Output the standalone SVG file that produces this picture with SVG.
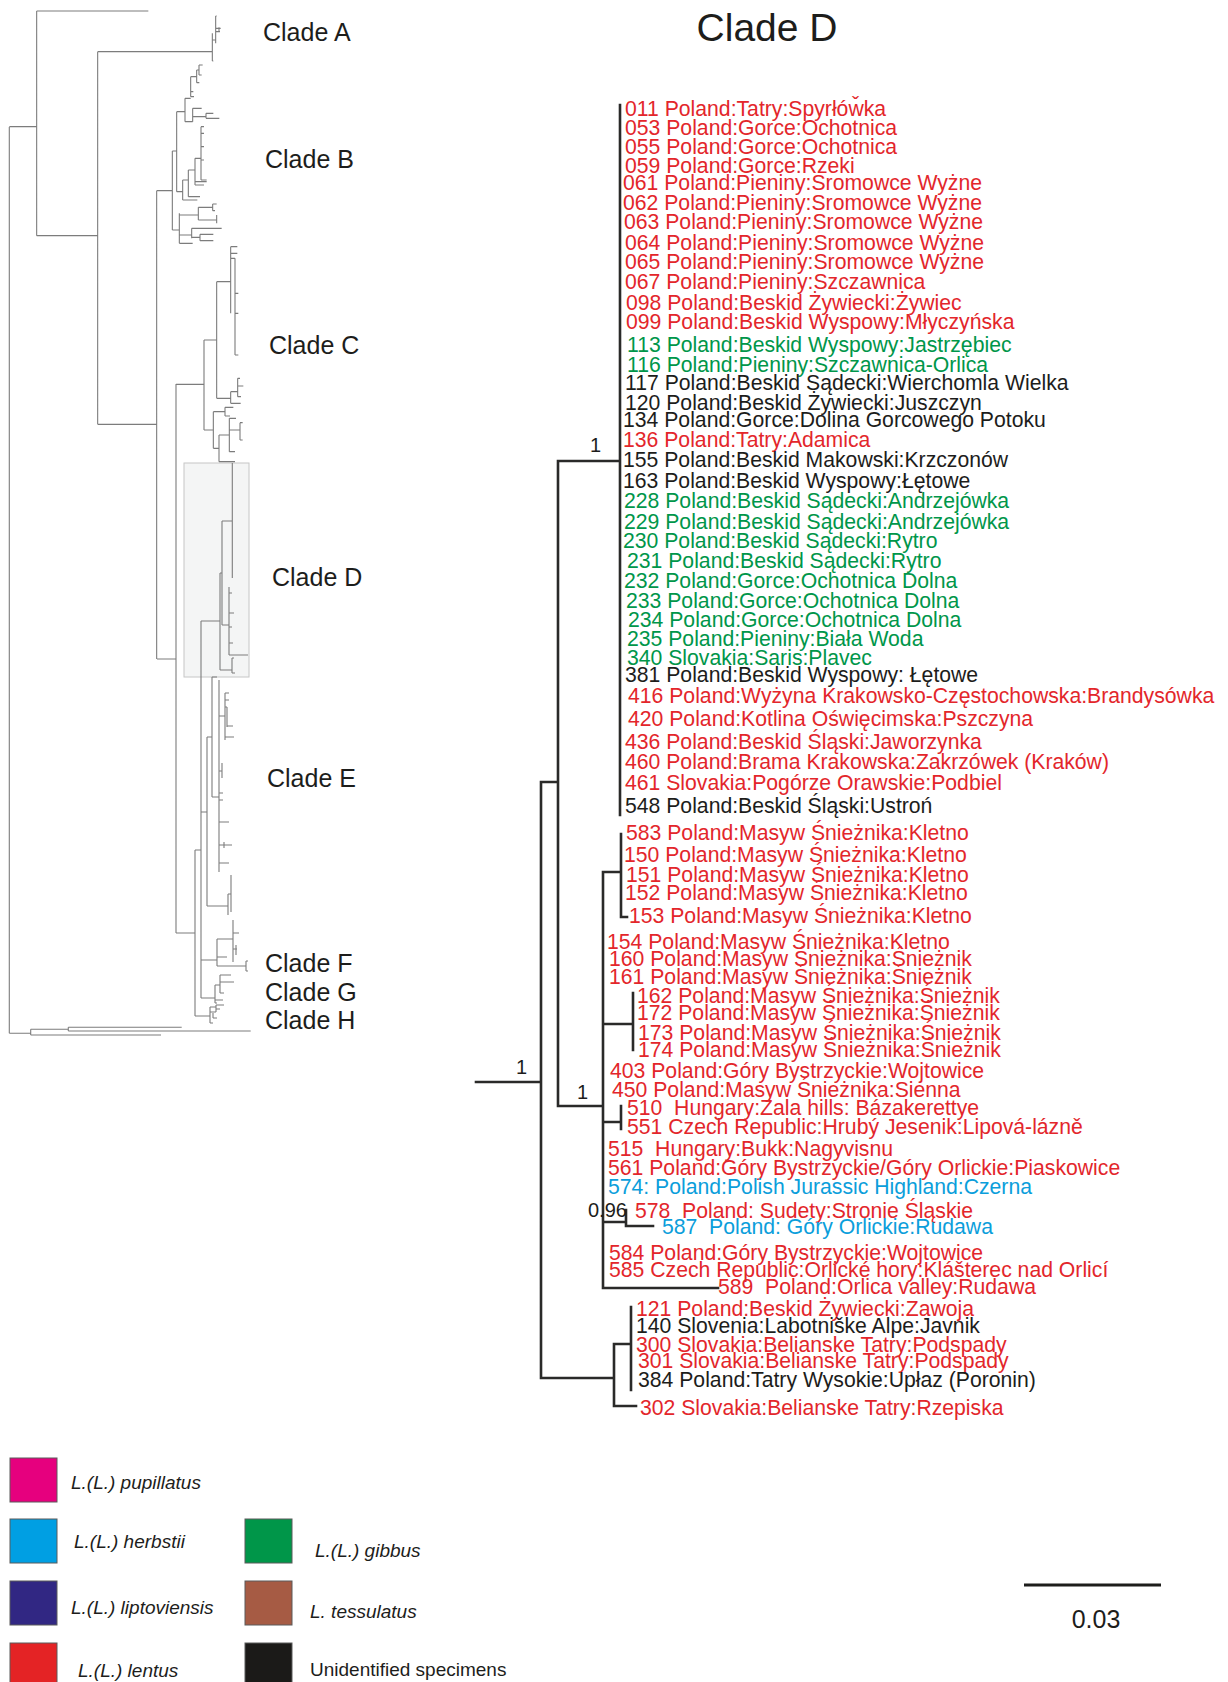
<svg xmlns="http://www.w3.org/2000/svg" width="1228" height="1682" viewBox="0 0 1228 1682">
<style>
text{font-family:"Liberation Sans",Arial,sans-serif;white-space:pre}
.t{font-size:21.2px}
.r{fill:#e3262b}.g{fill:#00964a}.b{fill:#0b9edb}.k{fill:#1d1d1b}
.cl{font-size:25px;fill:#1d1d1b}
.sup{font-size:20px;fill:#1d1d1b}
.lg{font-size:19px;fill:#1d1d1b;font-style:italic}
.mini{fill:none;stroke:#7c7c7c;stroke-width:1.1}
.minis{fill:none;stroke:#7c7c7c;stroke-width:3.3}
.tree{fill:none;stroke:#2a2a29;stroke-width:2.6;stroke-linecap:square}
.box{stroke:#5a5a5a;stroke-width:1}
</style>
<rect width="1228" height="1682" fill="#ffffff"/>

<g id="overview-tree">
<rect id="clade-d-highlight" x="184" y="463" width="65" height="214" fill="#f4f5f5" stroke="#c6c6c6" stroke-width="1"/>
<g transform="scale(0.333333)">
<path class="minis" d="M110 33H445M110 33V707M28 380H110M110 707H293M293 155V1273M293 155H637M293 1273H470M470 572V1977
M637 100V183M637 120H647M647 48V130M647 48H650M647 85H662M657 82V97M647 95H660M637 183H640
M470 572H517M517 453V690M517 453H530M530 335V575M530 335H555M555 295V365M555 295H572M572 230V290M572 230H590M590 210V248M590 210H597M597 195V225M597 195H608M597 225H605M590 248H598M572 275H580M572 290H582M555 365H578M578 325V365M578 325H605M578 350H618M618 340V355M618 340H640M618 355H658
M530 575H548M548 540V600M548 540H565M565 510V590M565 510H585M585 475V555M585 475H603M603 380V540M603 380H612M603 400H612M603 440H612M603 480H612M603 540H620M585 545H620M585 555H612M565 590H600M548 600H592
M517 690H538M538 640V730M538 645H595M595 622V660M595 622H638M638 612V632M638 612H650M638 632H645M595 660H650M650 645V670M538 705H575M575 685V715M575 685H665M575 712H600M600 703V722M600 703H640M600 722H640M538 730H578
M528 1153H612M612 1020V1290M612 1020H650M650 845V1195M650 845H692M692 740V940M692 740H712M692 760H712M705 775V1065M692 775H705M705 880H715M705 940H715M705 1065H715M650 1195H692M692 1175V1210M692 1175H713M713 1135V1190M713 1135H720M713 1158H730M713 1190H723M692 1210H722
M612 1290H640M640 1235V1345M640 1235H675M675 1222V1248M675 1222H700M675 1248H690M640 1345H657M657 1305V1385M657 1305H688M688 1255V1355M688 1255H708M688 1290H720M720 1268V1320M720 1268H728M720 1320H728M688 1355H705M657 1385H705"/>
</g>
<path class="mini" d="M9.3 127V1033.3M9.3 1033.3H30.7M30.7 1029.3V1035M30.7 1029.3H68.3M30.7 1035H161M68.3 1027.3V1031M68.3 1027.3H181.7M68.3 1031H250.7
M157 659H176M176 384V933M176 933H195M195 850V1016M195 850H201M201 621V998M195 1016H210
M232.3 463V578M222 521H232.3M222 521V625M220 573H222M220 573V670M201 621H220M222 625H229M229 587V655M229 593H232M229 613H234M229 627H232M229 643H233M229 655H248M220 670H232M232 658V673M232 658H234M232 673H235
M201 812H207M207 737V906M207 737H212M212 677V797M212 677H217M212 797H219M219 680V872M219 716H225M225 693V740M225 693H229M225 700H229M225 707H227M227 707V727M227 726H233M225 737H234M219 771H222M222 763V778M219 793H223M219 800H223M219 822H229M219 845H232M224 842V848M219 863H229M207 906H228M228 894V915M231 875V912M228 894H231
M201 960H217M217 939V966M217 939H233M233 920V962M233 933H239M233 949H237M236 945V955M217 957H227M217 966H246M246 961V971M246 961H248M246 971H248
M201 998H215M215 985V1003M215 985H220M220 975V993M220 975H231M220 982H234M220 993H224M215 1000H223M215 1003H217
M210 1007V1023M210 1007H216M216 1005V1012M216 1005H224M216 1009H220M210 1012H216M213 1013V1018M213 1018H217M210 1023H213"/>
<g id="clade-labels">
<text class="cl" x="263" y="41">Clade A</text>
<text class="cl" x="265" y="168">Clade B</text>
<text class="cl" x="269" y="354">Clade C</text>
<text class="cl" x="272" y="586">Clade D</text>
<text class="cl" x="267" y="787">Clade E</text>
<text class="cl" x="265" y="972">Clade F</text>
<text class="cl" x="265" y="1001">Clade G</text>
<text class="cl" x="265" y="1029">Clade H</text>
</g>
</g>

<text id="title" x="767" y="41" text-anchor="middle" style="font-size:39px;fill:#1d1d1b">Clade D</text>

<g id="connectors">
<path class="tree" d="M476 1082H541M541 782V1378M541 782H558M558 461V1106M558 461H620M620 105V815
M558 1106H603M603 872V1288M603 872H621M621 834V917M621 917H627M603 1024H633M633 993V1050M603 1122H621M621 1106V1129
M603 1222H626M626 1210V1226M626 1226H653M603 1288H718
M541 1378H614M614 1344V1406M614 1344H631M631 1307V1390M614 1406H636"/>
</g>

<g id="support-values">
<text class="sup" x="516" y="1074">1</text>
<text class="sup" x="590" y="452">1</text>
<text class="sup" x="577" y="1099">1</text>
<text class="sup" x="588" y="1217">0.96</text>
</g>

<g id="leaves" class="t">
<text id="l011" class="t r" x="625" y="116">011 Poland:Tatry:Spyrłów̌ka</text>
<text id="l053" class="t r" x="625" y="135">053 Poland:Gorce:Ochotnica</text>
<text id="l055" class="t r" x="625" y="154">055 Poland:Gorce:Ochotnica</text>
<text id="l059" class="t r" x="625" y="173">059 Poland:Gorce:Rzeki</text>
<text id="l061" class="t r" x="623" y="190">061 Poland:Pieniny:Sromowce Wyżne</text>
<text id="l062" class="t r" x="623" y="210">062 Poland:Pieniny:Sromowce Wyżne</text>
<text id="l063" class="t r" x="624" y="229">063 Poland:Pieniny:Sromowce Wyżne</text>
<text id="l064" class="t r" x="625" y="250">064 Poland:Pieniny:Sromowce Wyżne</text>
<text id="l065" class="t r" x="625" y="269">065 Poland:Pieniny:Sromowce Wyżne</text>
<text id="l067" class="t r" x="625" y="289">067 Poland:Pieniny:Szczawnica</text>
<text id="l098" class="t r" x="626" y="310">098 Poland:Beskid Żywiecki:Żywiec</text>
<text id="l099" class="t r" x="626" y="329">099 Poland:Beskid Wyspowy:Młyczyńska</text>
<text id="l113" class="t g" x="627" y="352">113 Poland:Beskid Wyspowy:Jastrzębiec</text>
<text id="l116" class="t g" x="627" y="372">116 Poland:Pieniny:Szczawnica-Orlica</text>
<text id="l117" class="t k" x="625" y="390">117 Poland:Beskid Sądecki:Wierchomla Wielka</text>
<text id="l120" class="t k" x="625" y="410">120 Poland:Beskid Żywiecki:Juszczyn</text>
<text id="l134" class="t k" x="623" y="427">134 Poland:Gorce:Dolina Gorcowego Potoku</text>
<text id="l136" class="t r" x="623" y="447">136 Poland:Tatry:Adamica</text>
<text id="l155" class="t k" x="623" y="467">155 Poland:Beskid Makowski:Krzczonów</text>
<text id="l163" class="t k" x="623" y="488">163 Poland:Beskid Wyspowy:Łętowe</text>
<text id="l228" class="t g" x="624" y="508">228 Poland:Beskid Sądecki:Andrzejówka</text>
<text id="l229" class="t g" x="624" y="529">229 Poland:Beskid Sądecki:Andrzejówka</text>
<text id="l230" class="t g" x="623" y="548">230 Poland:Beskid Sądecki:Rytro</text>
<text id="l231" class="t g" x="627" y="568">231 Poland:Beskid Sądecki:Rytro</text>
<text id="l232" class="t g" x="624" y="588">232 Poland:Gorce:Ochotnica Dolna</text>
<text id="l233" class="t g" x="626" y="608">233 Poland:Gorce:Ochotnica Dolna</text>
<text id="l234" class="t g" x="628" y="627">234 Poland:Gorce:Ochotnica Dolna</text>
<text id="l235" class="t g" x="627" y="646">235 Poland:Pieniny:Biała Woda</text>
<text id="l340" class="t g" x="627" y="665">340 Slovakia:Saris:Plavec</text>
<text id="l381" class="t k" x="625" y="682">381 Poland:Beskid Wyspowy: Łętowe</text>
<text id="l416" class="t r" x="628" y="703">416 Poland:Wyżyna Krakowsko-Częstochowska:Brandysówka</text>
<text id="l420" class="t r" x="628" y="726">420 Poland:Kotlina Oświęcimska:Pszczyna</text>
<text id="l436" class="t r" x="625" y="749">436 Poland:Beskid Śląski:Jaworzynka</text>
<text id="l460" class="t r" x="625" y="769">460 Poland:Brama Krakowska:Zakrzówek (Kraków)</text>
<text id="l461" class="t r" x="625" y="790">461 Slovakia:Pogórze Orawskie:Podbiel</text>
<text id="l548" class="t k" x="625" y="813">548 Poland:Beskid Śląski:Ustroń</text>
<text id="l583" class="t r" x="626" y="840">583 Poland:Masyw Śnieżnika:Kletno</text>
<text id="l150" class="t r" x="624" y="862">150 Poland:Masyw Śnieżnika:Kletno</text>
<text id="l151" class="t r" x="626" y="882">151 Poland:Masyw Śnieżnika:Kletno</text>
<text id="l152" class="t r" x="625" y="900">152 Poland:Masyw Śnieżnika:Kletno</text>
<text id="l153" class="t r" x="629" y="923">153 Poland:Masyw Śnieżnika:Kletno</text>
<text id="l154" class="t r" x="607" y="949">154 Poland:Masyw Śnieżnika:Kletno</text>
<text id="l160" class="t r" x="609" y="966">160 Poland:Masyw Śnieżnika:Śnieżnik</text>
<text id="l161" class="t r" x="609" y="984">161 Poland:Masyw Śnieżnika:Śnieżnik</text>
<text id="l162" class="t r" x="637" y="1003">162 Poland:Masyw Śnieżnika:Śnieżnik</text>
<text id="l172" class="t r" x="637" y="1020">172 Poland:Masyw Śnieżnika:Śnieżnik</text>
<text id="l173" class="t r" x="638" y="1040">173 Poland:Masyw Śnieżnika:Śnieżnik</text>
<text id="l174" class="t r" x="638" y="1057">174 Poland:Masyw Śnieżnika:Śnieżnik</text>
<text id="l403" class="t r" x="610" y="1078">403 Poland:Góry Bystrzyckie:Wojtowice</text>
<text id="l450" class="t r" x="612" y="1097">450 Poland:Masyw Śnieżnika:Sienna</text>
<text id="l510" class="t r" x="627" y="1115">510  Hungary:Zala hills: Bázakerettye</text>
<text id="l551" class="t r" x="627" y="1134">551 Czech Republic:Hrubý Jesenik:Lipová-lázně</text>
<text id="l515" class="t r" x="608" y="1156">515  Hungary:Bukk:Nagyvisnu</text>
<text id="l561" class="t r" x="608" y="1175">561 Poland:Góry Bystrzyckie/Góry Orlickie:Piaskowice</text>
<text id="l574" class="t b" x="608" y="1194">574: Poland:Polish Jurassic Highland:Czerna</text>
<text id="l578" class="t r" x="635" y="1218">578  Poland: Sudety:Stronie Śląskie</text>
<text id="l587" class="t b" x="662" y="1234">587  Poland: Góry Orlickie:Rudawa</text>
<text id="l584" class="t r" x="609" y="1260">584 Poland:Góry Bystrzyckie:Wojtowice</text>
<text id="l585" class="t r" x="609" y="1277">585 Czech Republic:Orlické hory:Klášterec nad Orlicí</text>
<text id="l589" class="t r" x="718" y="1294">589  Poland:Orlica valley:Rudawa</text>
<text id="l121" class="t r" x="636" y="1316">121 Poland:Beskid Żywiecki:Zawoja</text>
<text id="l140" class="t k" x="636" y="1333">140 Slovenia:Labotniške Alpe:Javnik</text>
<text id="l300" class="t r" x="636" y="1352">300 Slovakia:Belianske Tatry:Podspady</text>
<text id="l301" class="t r" x="638" y="1368">301 Slovakia:Belianske Tatry:Podspady</text>
<text id="l384" class="t k" x="638" y="1387">384 Poland:Tatry Wysokie:Upłaz (Poronin)</text>
<text id="l302" class="t r" x="640" y="1415">302 Slovakia:Belianske Tatry:Rzepiska</text>
</g>

<g id="legend">
<g id="lg-pupillatus"><rect class="box" x="10" y="1458" width="47" height="44" fill="#e6007e"/><text class="lg" x="71" y="1489">L.(L.) pupillatus</text></g>
<g id="lg-herbstii"><rect class="box" x="10" y="1519" width="47" height="44" fill="#009fe3"/><text class="lg" x="74" y="1548">L.(L.) herbstii</text></g>
<g id="lg-gibbus"><rect class="box" x="245" y="1519" width="47" height="44" fill="#009649"/><text class="lg" x="315" y="1557">L.(L.) gibbus</text></g>
<g id="lg-liptoviensis"><rect class="box" x="10" y="1581" width="47" height="44" fill="#312783"/><text class="lg" x="71" y="1614">L.(L.) liptoviensis</text></g>
<g id="lg-tessulatus"><rect class="box" x="245" y="1581" width="47" height="44" fill="#a65b44"/><text class="lg" x="310" y="1618">L. tessulatus</text></g>
<g id="lg-lentus"><rect class="box" x="10" y="1643" width="47" height="45" fill="#e42325"/><text class="lg" x="78" y="1677">L.(L.) lentus</text></g>
<g id="lg-unidentified"><rect class="box" x="245" y="1643" width="47" height="45" fill="#1b1a18"/><text class="lg" x="310" y="1676" style="font-style:normal">Unidentified specimens</text></g>
</g>

<g id="scale-bar">
<path d="M1024 1585H1161" stroke="#1d1d1b" stroke-width="3"/>
<text x="1096" y="1628" text-anchor="middle" style="font-size:25px;fill:#1d1d1b">0.03</text>
</g>
</svg>
